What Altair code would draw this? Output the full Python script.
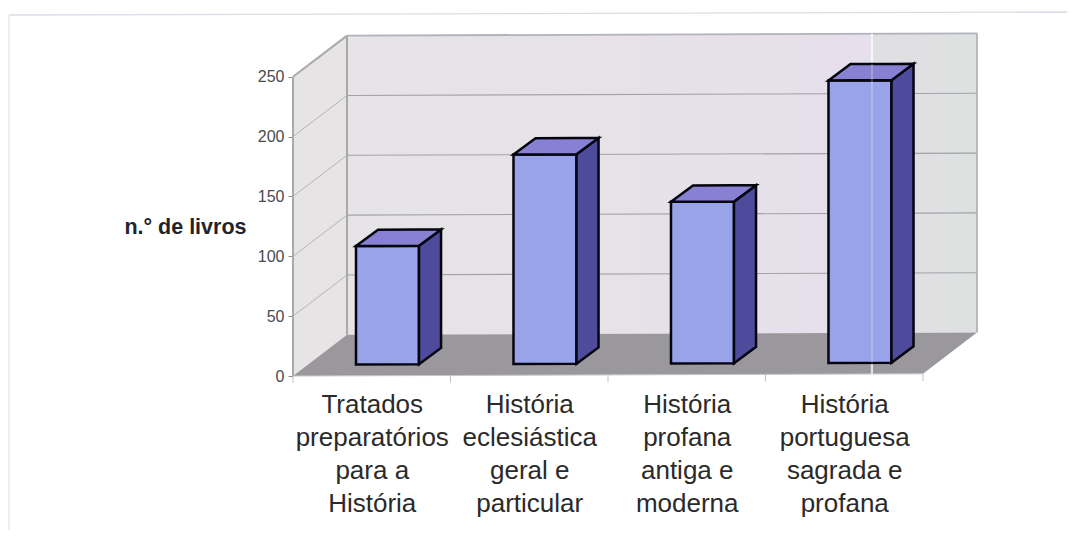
import json
import altair as alt
import pandas as pd

# ---- data ----
label_lines = [
    ["Tratados", "preparatórios", "para a", "História"],
    ["História", "eclesiástica", "geral e", "particular"],
    ["História", "profana", "antiga e", "moderna"],
    ["História", "portuguesa", "sagrada e", "profana"],
]
book_counts = [99, 175, 135, 236]
y_ticks = [0, 50, 100, 150, 200, 250]
grid_values = [50, 100, 150, 200, 250]
boundaries = [0, 1, 2, 3, 4]

# ---- 3D projection parameters (in data units) ----
DX, DY = 0.343, 34.25      # wall depth
BX, BY = 0.14, 13.6        # bar depth
TILT = 0.46                # the scan is very slightly rotated
BAR_L, BAR_R = 0.4, 0.8
BAR_BASE_Y = 9.4
W, H = 684, 341
X_MAX, Y_MAX = 4 + DX, 284.9


def tilt(x, y):
    return y + TILT * x


def band(rows):
    """vertical-orient polygon from (x, upper, lower) rows"""
    return pd.DataFrame(
        [{"x": x, "y": tilt(x, u), "y2": tilt(x, l)} for x, u, l in rows]
    )


def many(frames):
    out = []
    for i, f in enumerate(frames):
        f = f.copy()
        f["g"] = i
        out.append(f)
    return pd.concat(out, ignore_index=True)


def para(l, r, v, d, e):
    """horizontal parallelogram, front edge l..r at value v, depth d/e"""
    return band([(l, v, v), (l + d, v + e, v), (r, v + e, v), (r + d, v + e, v + e)])


X = alt.X("x:Q", scale=alt.Scale(domain=[0, X_MAX], nice=False, zero=False), axis=None)
Y = alt.Y("y:Q", scale=alt.Scale(domain=[0, Y_MAX], nice=False, zero=False), axis=None)


def area(df, **kw):
    return (
        alt.Chart(df)
        .mark_area(orient="vertical", **kw)
        .encode(x=X, y=Y, y2="y2:Q", detail="g:N")
    )


def seg(df, **kw):
    return (
        alt.Chart(df)
        .mark_line(**kw)
        .encode(x=X, y=Y, detail="g:N", order="idx:Q")
    )


def lines(pairs):
    rows = []
    for i, ((x1, y1), (x2, y2)) in enumerate(pairs):
        rows.append({"x": x1, "y": tilt(x1, y1), "g": i})
        rows.append({"x": x2, "y": tilt(x2, y2), "g": i})
    df = pd.DataFrame(rows)
    df["idx"] = range(len(df))
    return df


# axes carried by an invisible layer
axis_df = pd.DataFrame({"x": [0.0, 1.0], "y": [0.0, 0.0]})
expr = json.dumps(label_lines, ensure_ascii=False) + "[floor(datum.value)]"
axes = (
    alt.Chart(axis_df)
    .mark_point(opacity=0)
    .encode(
        x=alt.X(
            "x:Q",
            scale=alt.Scale(domain=[0, X_MAX], nice=False, zero=False),
            axis=alt.Axis(
                values=[0.5, 1.5, 2.5, 3.5],
                labelExpr=expr,
                title=None,
                ticks=False,
                domain=False,
                grid=False,
                labelFont="Liberation Sans",
                labelFontSize=26,
                labelLineHeight=33.3,
                labelColor="#2a2a2a",
                labelPadding=15,
                labelOverlap=False,
                labelFlush=False,
                labelBound=False,
            ),
        ),
        y=alt.Y(
            "y:Q",
            scale=alt.Scale(domain=[0, Y_MAX], nice=False, zero=False),
            axis=alt.Axis(
                values=y_ticks,
                title="n.° de livros",
                titleAngle=0,
                titleAlign="right",
                titleBaseline="middle",
                titleX=-47,
                titleY=192,
                titleFont="Liberation Sans",
                titleFontSize=21.5,
                titleFontWeight="bold",
                titleColor="#23232b",
                domain=False,
                grid=False,
                tickSize=5,
                tickColor="#8c8c8c",
                labelFont="Liberation Sans",
                labelFontSize=16,
                labelColor="#4a4a4e",
                labelPadding=4,
            ),
        ),
    )
)

wall_gradient = alt.Gradient(
    gradient="linear",
    x1=0, y1=0, x2=1, y2=0,
    stops=[
        alt.GradientStop(offset=0, color="#e6e4e6"),
        alt.GradientStop(offset=0.45, color="#e6e2e8"),
        alt.GradientStop(offset=0.832, color="#e6dfec"),
        alt.GradientStop(offset=0.835, color="#e0e0e3"),
        alt.GradientStop(offset=1, color="#dfe0e0"),
    ],
)

back_wall = area(
    band([(DX, 250 + DY, DY), (4 + DX, 250 + DY, DY)]).assign(g=0),
    color=wall_gradient,
)
left_wall = area(
    band([(0, 250, 0), (DX, 250 + DY, DY)]).assign(g=0),
    color="#e6e4e4",
)
floor = area(para(0, 4, 0, DX, DY).assign(g=0), color="#9a989c")

grid_back = seg(
    lines([((DX, v + DY), (4 + DX, v + DY)) for v in grid_values[:-1]]),
    color="#a2a2a8", strokeWidth=1.1,
)
grid_left = seg(
    lines([((0, v), (DX, v + DY)) for v in grid_values[:-1]]),
    color="#b4b4b6", strokeWidth=1,
)
edges_a = seg(
    lines([
        ((DX, DY), (DX, 250 + DY)),
        ((0, 0), (0, 250)),
        ((0, 250), (DX, 250 + DY)),
    ]),
    color="#a9a8ac", strokeWidth=2,
)
edges_b = seg(
    lines([
        ((DX, 250 + DY), (4 + DX, 250 + DY)),
        ((4 + DX, DY), (4 + DX, 250 + DY)),
    ]),
    color="#b2b2bc", strokeWidth=1.8,
)
front_edge = seg(lines([((0, 0), (4, 0))]), color="#c4c4c6", strokeWidth=1)

# x-axis boundary ticks
tick_df = pd.DataFrame(
    [{"x": b, "y": tilt(b, 0), "y2": tilt(b, -6)} for b in boundaries]
)
x_ticks = (
    alt.Chart(tick_df)
    .mark_rule(color="#c2c2c4", strokeWidth=1)
    .encode(x=X, y=Y, y2="y2:Q")
)

# bars
fronts, sides, tops = [], [], []
for i, v in enumerate(book_counts):
    l, r = i + BAR_L, i + BAR_R
    base = BAR_BASE_Y
    fronts.append(band([(l, base + v, base), (r, base + v, base)]))
    sides.append(band([(r, base + v, base), (r + BX, base + v + BY, base + BY)]))
    tops.append(para(l, r, base + v, BX, BY))

outline = dict(stroke="#05050f", strokeWidth=2.5, strokeJoin="miter")
front_layer = area(many(fronts), color="#98a3ea", **outline)
side_layer = area(many(sides), color="#4f4b9c", **outline)
top_layer = area(many(tops), color="#8880d2", **outline)

# scanner streak
STREAK_X = 3.676
streak_wall = (
    alt.Chart(pd.DataFrame([{"x": STREAK_X, "y": tilt(STREAK_X, 250 + DY), "y2": tilt(STREAK_X, 0)}]))
    .mark_rule(color="#ffffff", strokeWidth=2.2, opacity=0.72)
    .encode(x=X, y=Y, y2="y2:Q")
)
streak_bar = (
    alt.Chart(pd.DataFrame([{"x": STREAK_X, "y": tilt(STREAK_X, 9.4 + 236 + 13.6), "y2": tilt(STREAK_X, 9.4)}]))
    .mark_rule(color="#ffffff", strokeWidth=2.2, opacity=0.22)
    .encode(x=X, y=Y, y2="y2:Q")
)

# faint page frame
frame_top = alt.Chart(pd.DataFrame({"a": [0]})).mark_rule(color="#dcdce6", strokeWidth=1.3).encode(
    x=alt.value(-284), x2=alt.value(782), y=alt.value(-20), y2=alt.value(-23)
)
frame_left = alt.Chart(pd.DataFrame({"a": [0]})).mark_rule(color="#e2e2ea", strokeWidth=1.3).encode(
    x=alt.value(-284), y=alt.value(-20), y2=alt.value(495)
)

chart = (
    alt.layer(
        axes, frame_top, frame_left,
        left_wall, back_wall, floor, front_edge, x_ticks,
        grid_back, grid_left, edges_a, edges_b, streak_wall,
        front_layer, side_layer, top_layer, streak_bar,
    )
    .resolve_axis(x="independent", y="independent")
    .properties(
        width=W, height=H,
        autosize=alt.AutoSizeParams(type="none"),
        padding={"left": 285, "top": 27, "right": 90, "bottom": 162},
        background="#ffffff",
    )
    .configure_view(stroke=None)
)

chart.save("out.html", embed_options={"renderer": "svg", "actions": False})
